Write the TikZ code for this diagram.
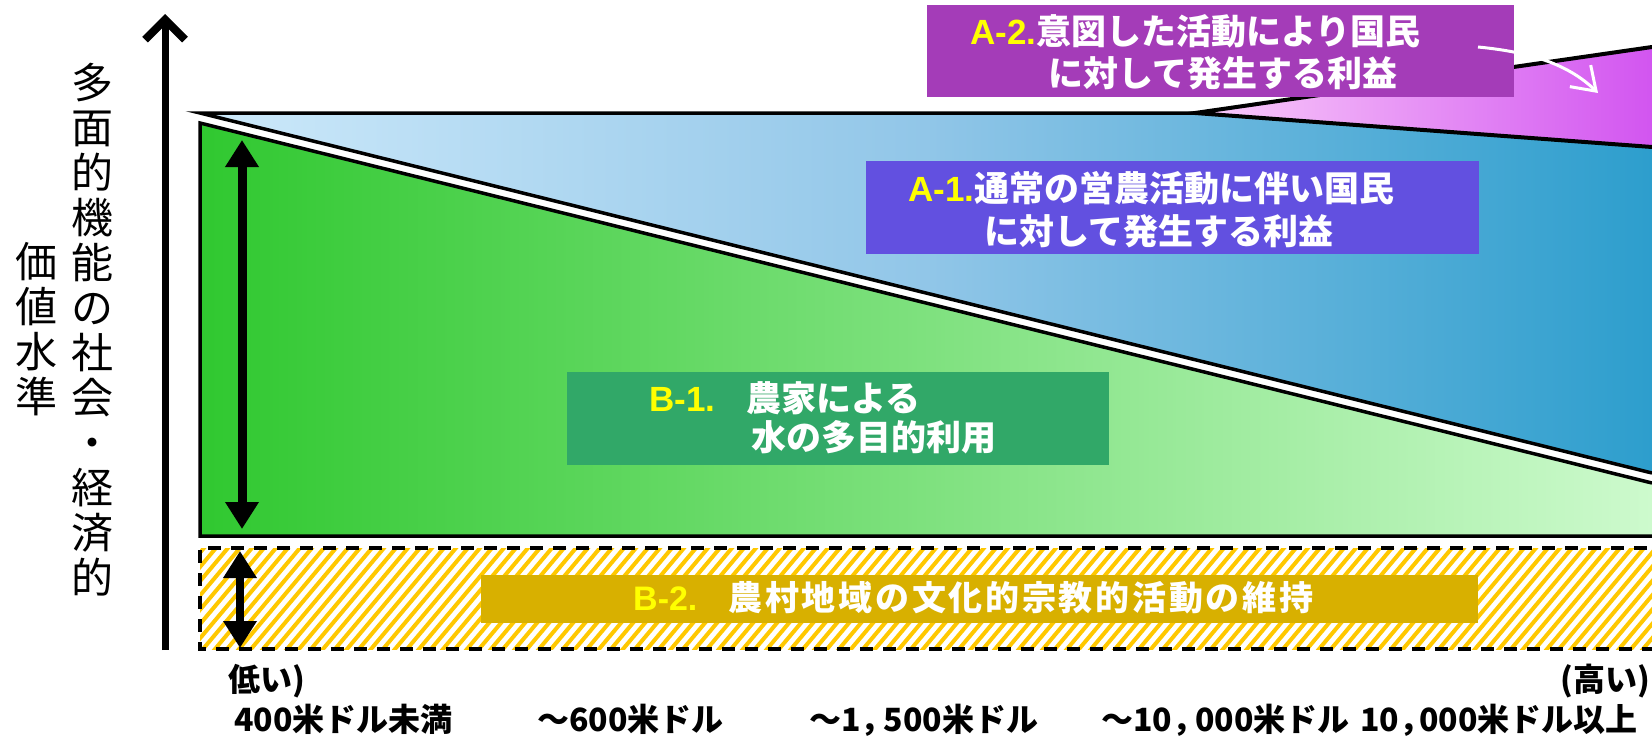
\documentclass[tikz,border=0pt]{standalone}
\usepackage{fontspec}
\usetikzlibrary{arrows.meta}
\newfontfamily\jp{Noto Sans CJK JP}
\newfontfamily\lat{Liberation Sans}
\definecolor{greenL}{RGB}{48,200,48}
\definecolor{greenR}{RGB}{205,250,205}
\definecolor{blueL}{RGB}{205,233,250}
\definecolor{blueM}{RGB}{145,198,232}
\definecolor{blueR}{RGB}{45,158,205}
\definecolor{pinkL}{RGB}{250,205,250}
\definecolor{pinkR}{RGB}{210,85,240}
\definecolor{atwo}{RGB}{164,60,184}
\definecolor{aone}{RGB}{98,80,224}
\definecolor{bone}{RGB}{49,168,104}
\definecolor{btwo}{RGB}{216,176,0}
\definecolor{hatchc}{RGB}{255,200,0}
\definecolor{yel}{RGB}{255,255,0}
\newcommand\yeltag[1]{{\lat\bfseries\color{yel}#1}}
\newcommand\fwcomma{，\kern-9pt}
\begin{document}
\begin{tikzpicture}[x=1pt,y=-1pt,
  edge/.style={line width=3.5pt, line join=miter},
  boxbg/.style={inner sep=0pt, outer sep=0pt},
  boxtext/.style={text=white, inner sep=0pt, anchor=base west, align=left},
  axislbl/.style={inner sep=0pt, align=center, font=\jp\fontsize{42}{45}\selectfont},
  money/.style={inner sep=0pt, anchor=base west, font=\jp\bfseries\fontsize{32}{36}\selectfont},
  dbl/.style={line width=9pt, {Triangle[length=27pt,width=32pt]}-{Triangle[length=27pt,width=32pt]}},
  hatchline/.style={hatchc, line width=4pt}]
\useasboundingbox (0,0) rectangle (1652,736);
\clip (0,0) rectangle (1652,736);

% A-1 region (blue)
\shade[left color=blueL, right color=blueR, middle color=blueM]
  (200,113) -- (1195,113) -- (1652,147) -- (1652,473) -- cycle;
\draw[edge] (1195,113) -- (200,113) -- (1652,473);

% B-1 region (green)
\shade[left color=greenL, right color=greenR]
  (200,123) -- (1652,483) -- (1652,536) -- (200,536) -- cycle;
\draw[edge] (1652,483) -- (200,123) -- (200,536) -- (1652,536);

% A-2 wedge (pink)
\shade[left color=pinkL, right color=pinkR]
  (1195,113) -- (1652,47) -- (1652,147) -- cycle;
\draw[line width=4pt, line join=miter] (1652,47) -- (1195,113) -- (1652,147);

% B-2 hatched band
\begin{scope}
  \clip (200,548) rectangle (1670,649);
  \foreach \i in {0,...,135} {
    \draw[hatchline] (90+\i*12,655) -- ++(95,-113);
  }
\end{scope}
\draw[line width=4pt, dash pattern=on 13pt off 10pt]
  (1670,548) -- (200,548) -- (200,649) -- (1670,649);

% label boxes
\node[boxbg, fill=atwo, minimum width=587pt, minimum height=92pt] (A2box) at (1220.5,51) {};
\node[boxbg, fill=aone, minimum width=613pt, minimum height=93pt] (A1box) at (1172.5,207.5) {};
\node[boxbg, fill=bone, minimum width=542pt, minimum height=93pt] (B1box) at (838,418.5) {};
\node[boxbg, fill=btwo, minimum width=997pt, minimum height=48pt] (B2box) at (979,598.5) {};

\node[boxtext, font=\jp\bfseries\fontsize{35}{42}\selectfont] (A2txt) at (970,86.5)
  {\yeltag{A-2.}意図した活動により国民\\\hspace*{78pt}に対して発生する利益};
\node[boxtext, font=\jp\bfseries\fontsize{35}{43}\selectfont] (A1txt) at (908,244)
  {\yeltag{A-1.}通常の営農活動に伴い国民\\\hspace*{76pt}に対して発生する利益};
\node[boxtext, font=\jp\bfseries\fontsize{35}{39}\selectfont] (B1txt) at (649,450.5)
  {\yeltag{B-1.}\hspace{31pt}農家による\\\hspace*{102pt}水の多目的利用};
\node[boxtext, font=\jp\bfseries\fontsize{34}{39}\selectfont] (B2txt) at (633,610)
  {\yeltag{B-2.}\hspace{31pt}{\addfontfeature{LetterSpace=8}農村地域の文化的宗教的活動の維持}};

% white pointer arrow
\coordinate (w1) at (1478,47);
\coordinate (w2) at (1598,93);
\draw[white, line width=3pt, -{Straight Barb[length=22pt,width=30pt]}]
  (w1) .. controls (1530,52) and (1568,64) .. (w2);

% vertical double arrows
\coordinate (g1) at (242,140);
\coordinate (g2) at (242,529);
\draw[dbl] (g1) -- (g2);
\coordinate (h1) at (240,551);
\coordinate (h2) at (240,648);
\draw[dbl, line width=8pt] (h1) -- (h2);

% value axis
\coordinate (ybot) at (165,650);
\coordinate (ytop) at (165,14);
\draw[line width=7pt, -{Straight Barb[length=20pt,width=40pt,line width=8pt]}] (ybot) -- (ytop);

% axis label
\node[axislbl] (ylab1) at (92,330) {多\\面\\的\\機\\能\\の\\社\\会\\・\\経\\済\\的};
\node[axislbl] (ylab2) at (37,329) {価\\値\\水\\準};

% income classes
\node[money] (low) at (228,691) {低い)};
\node[money] (high) at (1560,691) {(高い)};
\node[money] (c1) at (234,731) {400米ドル未満};
\node[money] (c2) at (537,731) {～600米ドル};
\node[money] (c3) at (809,731) {～1\fwcomma 500米ドル};
\node[money] (c4) at (1101,731) {～10\fwcomma 000米ドル};
\node[money] (c5) at (1360,731) {10，\kern-12pt 000米ドル以上};
\end{tikzpicture}
\end{document}
